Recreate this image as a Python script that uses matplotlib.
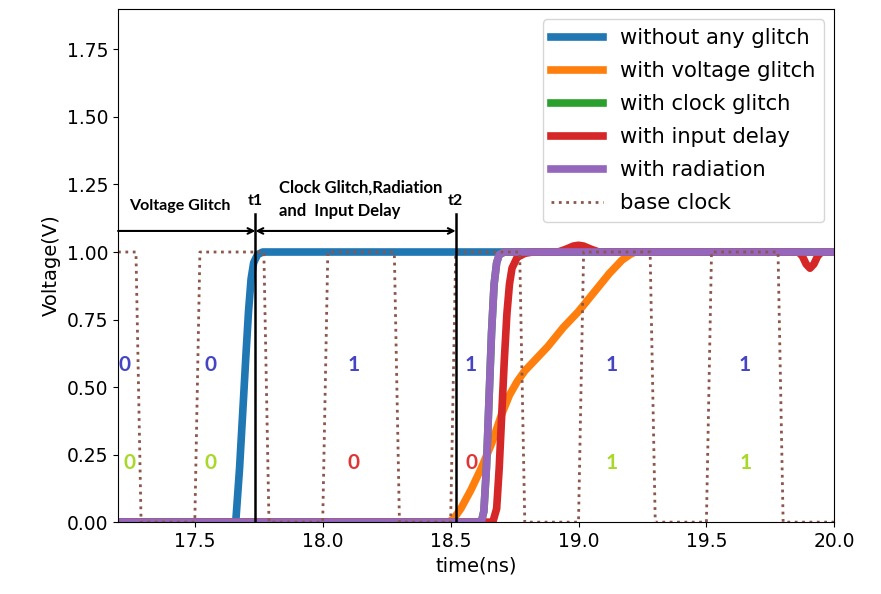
import matplotlib
matplotlib.use("Agg")
import matplotlib.pyplot as plt

# time (ns) / voltage (V) samples
t_clock = [17.20, 17.27, 17.29, 17.50, 17.52, 17.77, 17.79, 18.00, 18.02, 18.28, 18.30,
           18.50, 18.52, 18.77, 18.79, 19.00, 19.02, 19.28, 19.30, 19.50, 19.52, 19.78,
           19.80, 20.00]
v_clock = [1, 1, 0, 0, 1, 1, 0, 0, 1, 1, 0, 0, 1, 1, 0, 0, 1, 1, 0, 0, 1, 1, 0, 0]

t_normal = [17.20, 17.66, 17.675, 17.69, 17.70, 17.71, 17.72, 17.73, 17.745, 17.765, 20.00]
v_normal = [0, 0, 0.20, 0.45, 0.62, 0.78, 0.90, 0.96, 0.99, 1.0, 1.0]

t_voltage = [17.20, 18.49, 18.51, 18.54, 18.58, 18.62, 18.66, 18.70, 18.73, 18.76, 18.79,
             18.83, 18.88, 18.94, 19.00, 19.06, 19.12, 19.17, 19.20, 19.22, 20.00]
v_voltage = [0, 0, 0.01, 0.05, 0.12, 0.20, 0.29, 0.40, 0.47, 0.52, 0.56, 0.60, 0.65,
             0.72, 0.78, 0.85, 0.92, 0.97, 0.99, 1.0, 1.0]

t_clockg = [17.20, 18.62, 18.63, 18.64, 18.65, 18.66, 18.67, 18.68, 18.69, 18.71, 20.00]
v_clockg = [0, 0, 0.04, 0.20, 0.45, 0.70, 0.88, 0.96, 0.99, 1.0, 1.0]

t_input = [17.20, 18.665, 18.68, 18.69, 18.70, 18.71, 18.72, 18.73, 18.74, 18.76, 18.79,
           18.82, 18.92, 18.95, 18.98, 19.00, 19.02, 19.05, 19.08, 19.86, 19.875, 19.89,
           19.905, 19.92, 19.935, 19.95, 20.00]
v_input = [0, 0, 0.05, 0.20, 0.40, 0.60, 0.77, 0.88, 0.94, 0.98, 0.995, 1.0, 1.0, 1.01,
           1.022, 1.025, 1.022, 1.01, 1.0, 1.0, 0.985, 0.955, 0.94, 0.955, 0.985, 1.0, 1.0]

t_rad = [17.20, 18.62, 18.63, 18.64, 18.65, 18.66, 18.67, 18.68, 18.69, 18.71, 20.00]
v_rad = [0, 0, 0.04, 0.20, 0.45, 0.70, 0.88, 0.96, 0.99, 1.0, 1.0]

# bit labels: (time, text) for expected output (upper row) and observed output (lower row)
bits_top_t = [17.225, 17.56, 18.12, 18.58, 19.13, 19.65]
bits_top = ['0', '0', '1', '1', '1', '1']
bits_low_t = [17.245, 17.56, 18.12, 18.58, 19.13, 19.655]
bits_low = ['0', '0', '0', '0', '1', '1']
bits_low_col = ['#a8d828', '#a8d828', '#e03535', '#e03535', '#a8d828', '#a8d828']

t1 = 17.737
t2 = 18.52

fig = plt.figure(figsize=(8.81, 5.94), dpi=100)
ax = fig.add_axes([0.134, 0.121, 0.813, 0.864])

lw = 5.5
ax.plot(t_normal, v_normal, color='tab:blue', lw=lw, label='without any glitch')
ax.plot(t_voltage, v_voltage, color='tab:orange', lw=lw, label='with voltage glitch')
ax.plot(t_clockg, v_clockg, color='tab:green', lw=lw, label='with clock glitch')
ax.plot(t_input, v_input, color='tab:red', lw=lw, label='with input delay')
ax.plot(t_rad, v_rad, color='tab:purple', lw=lw, label='with radiation')
ax.plot(t_clock, v_clock, color='tab:brown', lw=2, ls=':', label='base clock')

# glitch window markers
ax.plot([t1, t1], [0, 1.14], color='black', lw=1.8)
ax.plot([t2, t2], [0, 1.14], color='black', lw=1.8)
ax.annotate('', xy=(t1, 1.078), xytext=(17.2, 1.078),
            arrowprops=dict(arrowstyle='->', color='black', lw=1.5, shrinkA=0, shrinkB=0))
ax.annotate('', xy=(t2, 1.078), xytext=(t1, 1.078),
            arrowprops=dict(arrowstyle='<->', color='black', lw=1.5, shrinkA=0, shrinkB=0))
ax.text(17.245, 1.17, 'Voltage Glitch', family='Lato', weight='bold', fontsize=11.5,
        va='center')
ax.text(t1, 1.19, 't1', family='Lato', weight='bold', fontsize=11.5, ha='center',
        va='center')
ax.text(t2, 1.19, 't2', family='Lato', weight='bold', fontsize=11.5, ha='center',
        va='center')
ax.text(17.83, 1.237, 'Clock Glitch,Radiation', family='Lato', weight='bold',
        fontsize=12, va='center')
ax.text(17.83, 1.152, 'and  Input Delay', family='Lato', weight='bold',
        fontsize=12, va='center')

for x, s in zip(bits_top_t, bits_top):
    ax.text(x, 0.58, s, color='#4444c4', family='Lato', weight='bold', fontsize=15,
            ha='center', va='center')
for x, s, c in zip(bits_low_t, bits_low, bits_low_col):
    ax.text(x, 0.22, s, color=c, family='Lato', weight='bold', fontsize=15,
            ha='center', va='center')

ax.set_xlim(17.2, 20.0)
ax.set_ylim(0, 1.9)
ax.set_yticks([0, 0.25, 0.5, 0.75, 1.0, 1.25, 1.5, 1.75])
ax.set_xticks([17.5, 18.0, 18.5, 19.0, 19.5, 20.0])
ax.tick_params(labelsize=13.5)
ax.set_xlabel('time(ns)', fontsize=14)
ax.set_ylabel('Voltage(V)', fontsize=14)
ax.legend(loc='upper right', fontsize=15.2, handlelength=2.45, labelspacing=0.62)

fig.savefig('out.png')
